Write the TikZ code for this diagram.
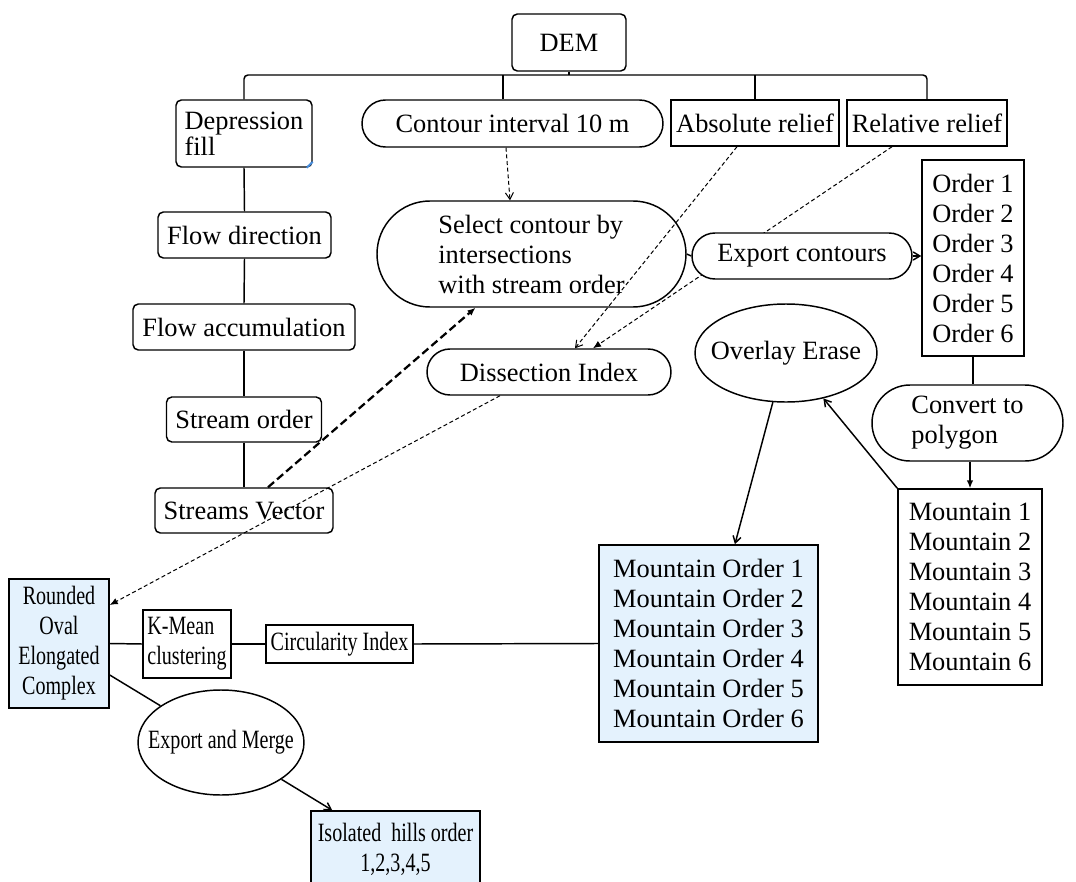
\documentclass[tikz,border=0pt]{standalone}
\usepackage{fontspec}
\setmainfont{Liberation Serif}
\newfontfamily\condfont[FakeStretch=0.76]{Liberation Serif}
\usetikzlibrary{shapes.geometric,shapes.misc,arrows.meta,calc}
\definecolor{lb}{RGB}{228,242,253}
\definecolor{markblue}{RGB}{70,140,220}
\begin{document}
\begin{tikzpicture}[x=0.75pt,y=-0.75pt,
  every node/.style={font=\fontsize{19.8}{22.5}\selectfont, inner sep=0pt, line width=1.1pt},
  sz/.style 2 args={minimum width=#1*0.75pt, minimum height=#2*0.75pt},
  rbox/.style={draw, rectangle, rounded corners=4pt, align=left, fill=white},
  sbox/.style={draw, rectangle, align=left, fill=white},
  bbox/.style={draw, rectangle, fill=lb, align=center},
  pill/.style={draw, rounded rectangle, align=left, fill=white},
  oval/.style={draw, ellipse, fill=white},
  cond/.style={font=\condfont\fontsize{19.8}{22.5}\selectfont},
  conn/.style={line width=1.1pt},
  opena/.style={-{Straight Barb[length=5pt,width=6pt]}},
  fulla/.style={-{Latex[length=6pt,width=5pt]}},
  thindash/.style={line width=0.75pt, dash pattern=on 3pt off 2pt},
  thickdash/.style={line width=1.7pt, dash pattern=on 6pt off 3pt}
]
\useasboundingbox (0,0) rectangle (1076,882);
\clip (0,0) rectangle (1076,882);

% nodes
\node[rbox, sz={114}{57}] (dem) at (569,42.5) {DEM};
\node[rbox, sz={136}{67}, font=\fontsize{19.8}{19.5}\selectfont] (dep) at (244,133.5) {Depression\\fill};
\node[pill, sz={301}{47}] (cont) at (512.5,123.5) {Contour interval 10 m};
\node[sbox, sz={168}{46}] (abs) at (755,123) {Absolute relief};
\node[sbox, sz={160}{46}] (rel) at (927,123) {Relative relief};
\node[rbox, sz={173}{46}] (fd) at (244.5,235) {Flow direction};
\node[rbox, sz={222}{46}] (fa) at (244,327) {Flow accumulation};
\node[rbox, sz={155}{45}] (so) at (244,419.5) {Stream order};
\node[rbox, sz={178}{45}] (sv) at (244,510.5) {Streams Vector};
\node[pill, sz={309}{106}] (sel) at (531.5,254) {Select contour by\\intersections\\with stream order};
\node[pill, sz={244}{46}] (dis) at (549,372) {Dissection Index};
\node[sbox, sz={102}{196}] (ord) at (973,258) {Order 1\\Order 2\\Order 3\\Order 4\\Order 5\\Order 6};
\node[pill, sz={191}{76}] (cvt) at (967.5,423) {Convert to\\polygon};
\node[sbox, sz={144}{196}] (mtn) at (970,587) {Mountain 1\\Mountain 2\\Mountain 3\\Mountain 4\\Mountain 5\\Mountain 6};
\node[oval, sz={182}{98}] (ov) at (786,353) {\makebox[0pt]{Overlay Erase}};
\node[bbox, sz={219}{197}, align=left] (mo) at (708.5,643.5) {Mountain Order 1\\Mountain Order 2\\Mountain Order 3\\Mountain Order 4\\Mountain Order 5\\Mountain Order 6};
\node[bbox, cond, sz={100}{129}] (rnd) at (59,643.5) {Rounded\\Oval\\Elongated\\Complex};
\node[sbox, cond, sz={88}{68}] (km) at (187,644) {K-Mean\\clustering};
\node[sbox, cond, sz={147}{38}] (ci) at (339.5,644) {Circularity Index};
\node[oval, cond, sz={166}{105}] (em) at (221,742.5) {\makebox[0pt]{Export and Merge}};
\node[bbox, cond, sz={169}{77}] (iso) at (395.5,849.5) {Isolated\ \ hills order\\1,2,3,4,5};

% small blue mark on Depression fill corner
\draw[markblue, line width=1.5pt] ($(dep.south east)+(0,-6)$) -- ($(dep.south east)+(-6,0)$);

% bus from DEM
\coordinate (bus) at (569,75);
\coordinate (cdrop) at ($(cont.north)+(-9.5,0)$);
\draw[conn] (dem.south) -- (bus);
\draw[conn, rounded corners=3pt] (dep.north) |- (bus) -| (rel.north);
\draw[conn] (cdrop) -- (cdrop |- bus);
\draw[conn] (abs.north) -- (abs.north |- bus);

% left chain
\draw[conn] (dep.south) -- (fd.north);
\draw[conn] (fd.south) -- (fa.north);
\draw[conn] (fa.south) -- (so.north);
\draw[conn] (so.south) -- (sv.north);

% relative relief to dissection index (passes behind Export contours)
\draw[thindash, fulla] ($(rel.south)+(-35,0)$) -- ($(dis.north)+(44,0)$);
\node[pill, sz={220}{46}] (exp) at (802,256) {Export contours};

\draw[thindash, opena] ($(cont.south)+(-6.5,0)$) -- ($(sel.north)+(-21.5,0)$);
\draw[thindash, opena] ($(abs.south)+(-18,0)$) -- ($(dis.north)+(26,0)$);
\draw[thickdash, fulla] ($(sv.north)+(24,0)$) -- ($(sel.south)+(-56,0)$);
\draw[thindash, fulla] ($(dis.south)+(-49,0)$) -- ($(rnd.east)+(0,-38.5)$);

\draw[conn] (sel.east) -- (exp.west);
\draw[conn, opena] (exp.east) -- (exp.east -| ord.west);
\draw[conn] (ord.south) -- (ord.south |- cvt.north);
\draw[conn, fulla] (cvt.south -| mtn.north) -- (mtn.north);
\draw[conn, opena] (mtn.north west) -- (ov);
\draw[conn, opena] (ov) -- (mo);

\draw[conn] (rnd.east) -- (km.west);
\draw[conn] (km.east) -- (ci.west);
\draw[conn] (ci.east) -- (mo.west);
\draw[conn] ($(rnd.east)+(0,31.5)$) -- (em);
\draw[conn, opena] (em) -- ($(iso.north west)+(22,0)$);
\end{tikzpicture}
\end{document}
